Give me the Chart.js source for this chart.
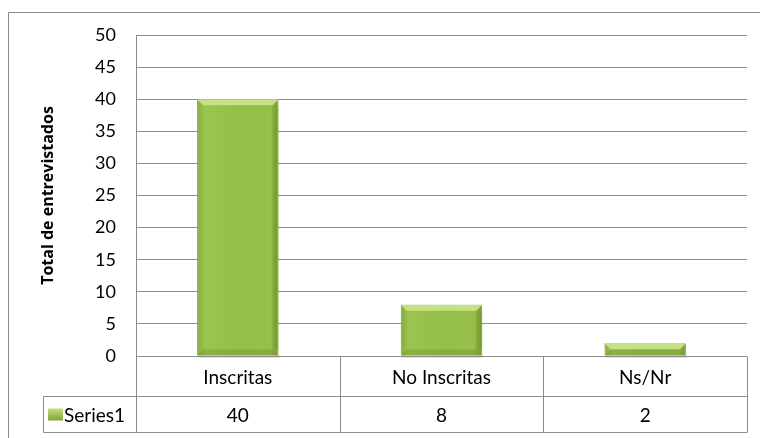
<!DOCTYPE html>
<html>
<head>
<meta charset="utf-8">
<script src="https://cdn.jsdelivr.net/npm/chart.js@4"></script>
<style>
  html, body { margin: 0; padding: 0; background: #fff; }
  #wrap { width: 760px; height: 438px; }
</style>
</head>
<body>
<div id="wrap"><canvas id="chart" width="760" height="438"></canvas></div>
<script>
// datos del gráfico
const categories = ["Inscritas", "No Inscritas", "Ns/Nr"];
const seriesName = "Series1";
const seriesValues = [40, 8, 2];
const yTicks = [0, 5, 10, 15, 20, 25, 30, 35, 40, 45, 50];
const yTitle = "Total de entrevistados";

const FONT = "Lato, 'Open Sans', sans-serif";
const GRID = "#8c8c8c";
const BAR_PCT = 0.4;

// marco exterior + tabla de datos bajo el eje
const tablePlugin = {
  id: "dataTable",
  beforeDraw(chart) {
    const ctx = chart.ctx;
    ctx.save();
    ctx.strokeStyle = "#8c8c8c";
    ctx.lineWidth = 1;
    ctx.beginPath();
    ctx.moveTo(8.5, 440);
    ctx.lineTo(8.5, 12.5);
    ctx.lineTo(762, 12.5);
    ctx.stroke();
    ctx.restore();
  },
  afterDatasetsDraw(chart) {
    // bisel claro arriba y borde algo más oscuro abajo, como en Excel
    const ctx = chart.ctx;
    const meta = chart.getDatasetMeta(0);
    ctx.save();
    meta.data.forEach((bar) => {
      const l = bar.x - bar.width / 2, r = bar.x + bar.width / 2;
      const t = bar.y, b = bar.base;
      const d = Math.min(6, (b - t) / 2);
      ctx.fillStyle = "rgba(205,230,140,0.85)";
      ctx.beginPath();
      ctx.moveTo(l, t); ctx.lineTo(r, t); ctx.lineTo(r - d, t + d); ctx.lineTo(l + d, t + d);
      ctx.closePath(); ctx.fill();
      ctx.fillStyle = "rgba(100,135,35,0.3)";
      ctx.beginPath();
      ctx.moveTo(l, b); ctx.lineTo(r, b); ctx.lineTo(r - d, b - d); ctx.lineTo(l + d, b - d);
      ctx.closePath(); ctx.fill();
      ctx.fillStyle = "rgba(110,145,40,0.25)";
      ctx.fillRect(r - d, t + d, d, b - t - 2 * d);
      // sombra bajo la barra
      ctx.fillStyle = "rgba(80,80,60,0.35)";
      ctx.fillRect(l + 1, b, r - l, 2);
    });
    ctx.restore();
  },
  afterDraw(chart) {
    const ctx = chart.ctx;
    const area = chart.chartArea;
    const x = chart.scales.x;
    const half = (x.getPixelForValue(1) - x.getPixelForValue(0)) / 2;
    const top = Math.round(area.bottom) + 0.5;
    const mid = top + 40;
    const bot = mid + 36;
    const leftCell = 43.5;

    ctx.save();
    ctx.strokeStyle = GRID;
    ctx.lineWidth = 1;
    ctx.beginPath();
    ctx.moveTo(area.left, top); ctx.lineTo(area.right, top);
    ctx.moveTo(leftCell, mid); ctx.lineTo(area.right, mid);
    ctx.moveTo(leftCell, bot); ctx.lineTo(area.right, bot);
    ctx.moveTo(leftCell, mid); ctx.lineTo(leftCell, bot);
    categories.forEach((c, i) => {
      const bx = Math.round(x.getPixelForValue(i) - half) + 0.5;
      ctx.moveTo(bx, top); ctx.lineTo(bx, bot);
    });
    const rx = Math.round(x.getPixelForValue(categories.length - 1) + half) + 0.5;
    ctx.moveTo(rx, top); ctx.lineTo(rx, bot);
    ctx.stroke();

    ctx.fillStyle = "#000";
    ctx.font = "19px " + FONT;
    ctx.textAlign = "center";
    ctx.textBaseline = "middle";
    categories.forEach((c, i) => {
      const cx = x.getPixelForValue(i);
      ctx.fillText(c, cx, (top + mid) / 2 + 1);
      ctx.fillText(String(seriesValues[i]), cx, (mid + bot) / 2 + 1);
    });

    // leyenda de la serie
    const sy = (mid + bot) / 2;
    const g = ctx.createLinearGradient(0, sy - 6, 0, sy + 6);
    g.addColorStop(0, "#c2df7c");
    g.addColorStop(1, "#7fa534");
    ctx.fillStyle = g;
    ctx.fillRect(48, sy - 6, 15, 12);
    ctx.fillStyle = "#000";
    ctx.textAlign = "left";
    ctx.fillText(seriesName, 64, sy + 1);
    ctx.restore();
  }
};

function barFill(c) {
  const a = c.chart.chartArea;
  const xs = c.chart.scales.x;
  if (!a || !xs || c.dataIndex === undefined) return "#8db53c";
  const cx = xs.getPixelForValue(c.dataIndex);
  const w = (xs.getPixelForValue(1) - xs.getPixelForValue(0)) * BAR_PCT;
  if (!Number.isFinite(cx) || !Number.isFinite(w)) return "#8db53c";
  const g = c.chart.ctx.createLinearGradient(cx - w / 2, 0, cx + w / 2, 0);
  g.addColorStop(0, "#86ad3a");
  g.addColorStop(0.1, "#9cc450");
  g.addColorStop(0.5, "#95bf48");
  g.addColorStop(0.9, "#97c04b");
  g.addColorStop(1, "#76992f");
  return g;
}

const ctx = document.getElementById("chart").getContext("2d");

new Chart(ctx, {
  type: "bar",
  data: {
    labels: categories,
    datasets: [
      {
        label: seriesName,
        data: seriesValues,
        backgroundColor: barFill,
        borderColor: "#7b9c34",
        borderWidth: 1,
        barPercentage: BAR_PCT,
        categoryPercentage: 1.0,
      },
    ],
  },
  options: {
    responsive: false,
    animation: false,
    layout: { padding: { left: 28, top: 35, right: 13, bottom: 82 } },
    plugins: {
      legend: { display: false },
      tooltip: { enabled: false },
    },
    scales: {
      x: { display: false },
      y: {
        min: 0,
        max: 50,
        afterBuildTicks: (s) => { s.ticks = yTicks.map((v) => ({ value: v })); },
        afterFit: (s) => { s.width = 136 - 28; },
        ticks: {
          color: "#000",
          padding: 20,
          font: { family: FONT, size: 18 },
        },
        grid: { color: GRID, drawTicks: false },
        border: { display: true, color: GRID },
        title: {
          display: true,
          text: yTitle,
          color: "#000",
          padding: { top: 11, bottom: 0 },
          font: { family: "'Open Sans', sans-serif", size: 16, weight: "bold" },
        },
      },
    },
  },
  plugins: [tablePlugin],
});
</script>
</body>
</html>
